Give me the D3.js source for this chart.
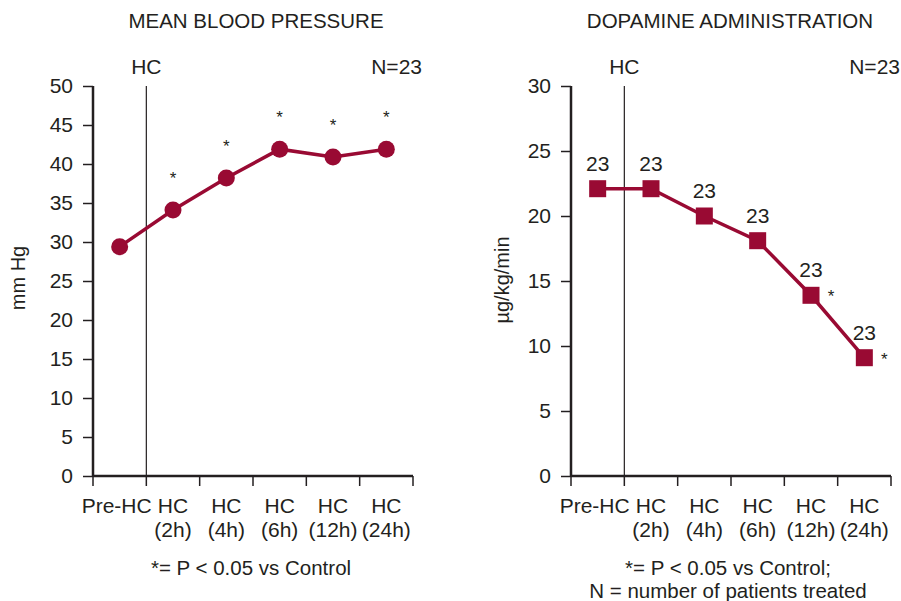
<!DOCTYPE html>
<html><head><meta charset="utf-8">
<script src="https://cdn.jsdelivr.net/npm/d3@7"></script>
<style>
body{margin:0;background:#fff;}
text{font-family:"Liberation Sans",Arial,sans-serif;fill:#231f20;}
</style></head>
<body>
<svg id="chart" width="901" height="601"></svg>
<script>
const categories = ["Pre-HC","HC (2h)","HC (4h)","HC (6h)","HC (12h)","HC (24h)"];
const categoryLines = [["Pre-HC"],["HC","(2h)"],["HC","(4h)"],["HC","(6h)"],["HC","(12h)"],["HC","(24h)"]];
const mapValues = [29.4, 34.1, 38.2, 41.9, 40.9, 41.9];
const mapSignificant = [false, true, true, true, true, true];
const mapTicks = [0,5,10,15,20,25,30,35,40,45,50];
const dopValues = [22.1, 22.1, 20.0, 18.1, 13.9, 9.1];
const dopN = [23, 23, 23, 23, 23, 23];
const dopSignificant = [false, false, false, false, true, true];
const dopTicks = [0,5,10,15,20,25,30];

const svg = d3.select("#chart");
const red = "#990a33";
const ink = "#231f20";
const FS = "21px";

function panel(opts){
  const g = svg.append("g");
  const x = d3.scaleBand().domain(categories).range([opts.x0, opts.x1]).padding(0);
  const y = d3.scaleLinear().domain([0, opts.ymax]).range([476, 86]);
  const cx = c => x(c) + x.bandwidth()/2;

  g.append("text").attr("x", opts.titleX).attr("y", 28).attr("text-anchor","middle")
    .style("font-size","20.5px").text(opts.title);
  g.append("text").attr("x", x(categories[1])).attr("y", 74).attr("text-anchor","middle")
    .style("font-size",FS).text("HC");
  g.append("text").attr("x", opts.nX).attr("y", 74).attr("text-anchor","end")
    .style("font-size",FS).text("N=23");

  g.append("line").attr("x1", x(categories[1])).attr("x2", x(categories[1]))
    .attr("y1", y(opts.ymax)).attr("y2", y(0)).attr("stroke", ink).attr("stroke-width", 1.2);

  const ya = g.append("g").attr("transform", `translate(${opts.x0},0)`)
    .call(d3.axisLeft(y).tickValues(opts.ticks).tickSize(10).tickPadding(10));
  ya.select(".domain").attr("stroke", ink).attr("stroke-width", 2.5).attr("d", `M0,${y(opts.ymax)}V${y(0)}`);
  ya.selectAll(".tick line").attr("stroke", ink).attr("stroke-width", 1.5);
  ya.selectAll(".tick text").style("font-size",FS).attr("fill", ink)
    .style("font-family","'Liberation Sans',Arial,sans-serif");

  const xa = g.append("g").attr("transform", `translate(0,${y(0)})`);
  xa.append("line").attr("x1", opts.x0).attr("x2", opts.x1).attr("y1",0).attr("y2",0)
    .attr("stroke", ink).attr("stroke-width", 2.5);
  const bounds = categories.map(c => x(c)).concat([opts.x1]);
  xa.selectAll("line.tk").data(bounds).enter().append("line").attr("class","tk")
    .attr("x1", d=>d).attr("x2", d=>d).attr("y1", 0).attr("y2", 10)
    .attr("stroke", ink).attr("stroke-width", 1.5);
  categories.forEach((c,i) => {
    const t = xa.append("text").attr("text-anchor","middle").style("font-size",FS);
    categoryLines[i].forEach((ln,j) => {
      t.append("tspan").attr("x", cx(c) + (i===0 ? -3 : 0)).attr("y", 37 + j*24).text(ln);
    });
  });

  g.append("text").attr("transform", `translate(${opts.ylabX},${opts.ylabY}) rotate(-90)`)
    .attr("text-anchor","middle").style("font-size","20px").text(opts.ylabel);

  opts.foot.forEach((ln,j) => {
    g.append("text").attr("x", opts.footX).attr("y", 575 + j*23).attr("text-anchor","middle")
      .style("font-size","20.5px").text(ln);
  });

  const line = d3.line().x((d,i)=>cx(categories[i])).y(d=>y(d));
  g.append("path").datum(opts.values).attr("d", line).attr("fill","none")
    .attr("stroke", red).attr("stroke-width", 3.5);

  return {g, x, y, cx};
}

const L = panel({x0:93, x1:413, ymax:50, ticks:mapTicks, title:"MEAN BLOOD PRESSURE", titleX:256,
  nX:422, ylabel:"mm Hg", ylabX:25, ylabY:278, foot:["*= P < 0.05 vs Control"], footX:251, values:mapValues});
L.g.selectAll("circle.pt").data(mapValues).enter().append("circle")
  .attr("cx",(d,i)=>L.cx(categories[i])).attr("cy", d=>L.y(d)).attr("r", 8.5).attr("fill", red);
L.g.selectAll("text.sig").data(mapValues.map((v,i)=>({v, s:mapSignificant[i], i})).filter(d=>d.s))
  .enter().append("text").attr("class","sig")
  .attr("x", d=>L.cx(categories[d.i])).attr("y", d=>L.y(d.v) - 26)
  .attr("text-anchor","middle").style("font-size","17px").text("*");

const R = panel({x0:571, x1:891, ymax:30, ticks:dopTicks, title:"DOPAMINE ADMINISTRATION", titleX:730,
  nX:900, ylabel:"µg/kg/min", ylabX:509, ylabY:280,
  foot:["*= P < 0.05 vs Control;", "N = number of patients treated"], footX:728, values:dopValues});
const sq = 17;
R.g.selectAll("rect.pt").data(dopValues).enter().append("rect")
  .attr("x",(d,i)=>R.cx(categories[i]) - sq/2).attr("y", d=>R.y(d) - sq/2)
  .attr("width", sq).attr("height", sq).attr("fill", red);
R.g.selectAll("text.n").data(dopValues).enter().append("text").attr("class","n")
  .attr("x",(d,i)=>R.cx(categories[i])).attr("y", d=>R.y(d) - 18)
  .attr("text-anchor","middle").style("font-size",FS).text((d,i)=>dopN[i]);
R.g.selectAll("text.sig").data(dopValues.map((v,i)=>({v, s:dopSignificant[i], i})).filter(d=>d.s))
  .enter().append("text").attr("class","sig")
  .attr("x", d=>R.cx(categories[d.i]) + 20).attr("y", d=>R.y(d.v) + 7)
  .attr("text-anchor","middle").style("font-size","17px").text("*");
</script>
</body></html>
